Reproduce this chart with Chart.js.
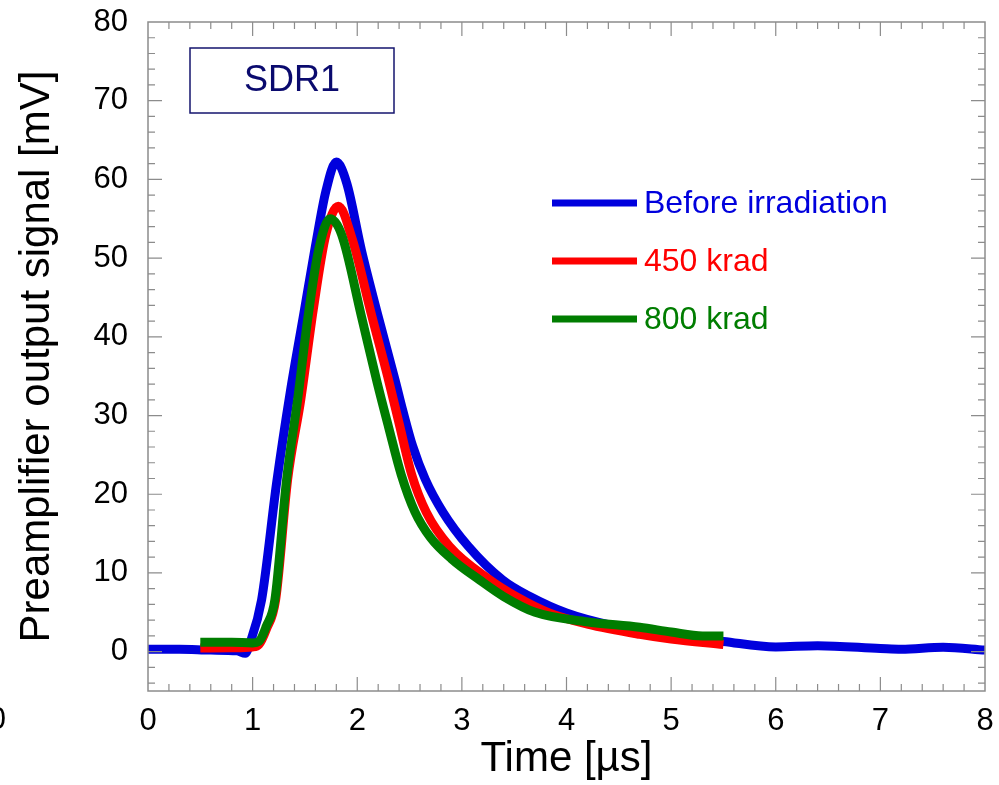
<!DOCTYPE html>
<html>
<head>
<meta charset="utf-8">
<script src="https://cdn.jsdelivr.net/npm/chart.js@4.4.1/dist/chart.umd.min.js"></script>
<style>
    html, body { margin: 0; padding: 0; background: #fff; }
    #wrap { width: 999px; height: 785px; }
</style>
</head>
<body>
<div id="wrap"><canvas id="signalChart" width="999" height="785"></canvas></div>
<script>
"use strict";

// Tick labels
const timeTicks = [0, 1, 2, 3, 4, 5, 6, 7, 8];
const signalTicks = [0, 10, 20, 30, 40, 50, 60, 70, 80];

// Before irradiation (blue)
const blueTime = [0, 0.3, 0.6, 0.85, 0.93, 0.975, 1.086, 1.23, 1.36, 1.49, 1.6, 1.7, 1.8, 1.9, 2.04, 2.2, 2.36, 2.44, 2.53, 2.65, 2.82, 3.06, 3.39, 3.65, 4.0, 4.44, 5.0, 5.5, 6.0, 6.4, 7.0, 7.2, 7.6, 8.0];
const blueSignal = [0.3, 0.3, 0.2, 0.1, -0.2, 1.1, 6.6, 21.5, 33, 43, 51.5, 58.5, 62.2, 59.5, 51, 42.6, 34.6, 30.4, 26.1, 21.9, 17.7, 13.4, 9.1, 7.0, 4.9, 3.3, 2.1, 1.3, 0.6, 0.75, 0.4, 0.3, 0.55, 0.2];

// 450 krad (red)
const redTime = [0.5, 0.8, 1.0, 1.06, 1.13, 1.22, 1.335, 1.46, 1.58, 1.7, 1.82, 1.95, 2.14, 2.29, 2.4, 2.52, 2.66, 2.88, 3.27, 3.52, 3.84, 4.2, 4.7, 5.0, 5.5];
const redSignal = [0.45, 0.5, 0.6, 0.9, 2.8, 6.6, 21.9, 32, 43.5, 53, 56.6, 52.5, 42.6, 35, 29, 22.5, 17.7, 13.4, 9.1, 7.0, 4.9, 3.5, 2.2, 1.6, 0.9];

// 800 krad (green)
const greenTime = [0.5, 0.8, 1.0, 1.06, 1.13, 1.213, 1.325, 1.43, 1.53, 1.63, 1.74, 1.85, 2.04, 2.19, 2.3, 2.42, 2.55, 2.7, 2.9, 3.17, 3.4, 3.7, 4.19, 4.7, 5.0, 5.3, 5.5];
const greenSignal = [1.2, 1.2, 1.1, 1.3, 3.2, 6.6, 21.9, 32, 42.6, 51, 55, 53, 42.6, 34.2, 28.5, 22.5, 17.8, 14.5, 11.8, 9.1, 7.0, 5.0, 3.8, 3.1, 2.5, 2.0, 2.0];

const seriesNames = ["Before irradiation", "450 krad", "800 krad"];
const seriesColors = ["#0000dd", "#ff0000", "#007d00"];

const FONT = "'Liberation Sans', Arial, Helvetica, sans-serif";

/**
 * Slår ihop tid och signal till punkter för Chart.js
 */
function toPoints(xs, ys) {
    return xs.map((x, i) => ({ x: x, y: ys[i] }));
}

// Ram, inåtriktade tickmarkeringar, SDR1-ruta och legend
const decorPlugin = {
    id: "decor",
    afterDraw(chart) {
        const ctx = chart.ctx;
        const area = chart.chartArea;
        const xs = chart.scales.x;
        const ys = chart.scales.y;

        ctx.save();
        ctx.strokeStyle = "#8c8c8c";
        ctx.lineWidth = 1.5;
        ctx.strokeRect(area.left, area.top, area.right - area.left, area.bottom - area.top);

        ctx.lineWidth = 1.2;
        ctx.beginPath();
        // x-axelns tickar var 0.2
        for (let k = 1; k < 40; k++) {
            const v = k / 5;
            const px = xs.getPixelForValue(v);
            const len = (k % 5 === 0) ? 14 : 7;
            ctx.moveTo(px, area.bottom);
            ctx.lineTo(px, area.bottom - len);
            ctx.moveTo(px, area.top);
            ctx.lineTo(px, area.top + len);
        }
        // y-axelns tickar var 2
        for (let v = -4; v < 80; v += 2) {
            const py = ys.getPixelForValue(v);
            const len = (v % 10 === 0) ? 14 : 7;
            ctx.moveTo(area.left, py);
            ctx.lineTo(area.left + len, py);
            ctx.moveTo(area.right, py);
            ctx.lineTo(area.right - len, py);
        }
        ctx.stroke();

        // SDR1-ruta
        ctx.strokeStyle = "#14146e";
        ctx.lineWidth = 1.5;
        ctx.strokeRect(190, 48, 204, 65);
        ctx.fillStyle = "#0a0a6e";
        ctx.font = "36px " + FONT;
        ctx.textAlign = "center";
        ctx.textBaseline = "middle";
        ctx.fillText("SDR1", 292, 81);

        // Legend
        const legendY = [203, 261, 319];
        ctx.textAlign = "left";
        ctx.font = "32px " + FONT;
        seriesNames.forEach((name, i) => {
            ctx.strokeStyle = seriesColors[i];
            ctx.lineWidth = 7;
            ctx.beginPath();
            ctx.moveTo(552, legendY[i]);
            ctx.lineTo(637, legendY[i]);
            ctx.stroke();
            ctx.fillStyle = seriesColors[i];
            ctx.fillText(name, 644, legendY[i] + 1);
        });

        // Avklippt etikett vid vänsterkanten
        ctx.fillStyle = "#000";
        ctx.font = "31px " + FONT;
        ctx.textAlign = "right";
        ctx.fillText("0", 6, 720);
        ctx.restore();
    }
};

const ctx = document.getElementById("signalChart").getContext("2d");

const datasets = [
    { data: toPoints(greenTime, greenSignal), color: seriesColors[2], order: 0 },
    { data: toPoints(redTime, redSignal), color: seriesColors[1], order: 1 },
    { data: toPoints(blueTime, blueSignal), color: seriesColors[0], order: 2 }
].map(d => ({
    data: d.data,
    borderColor: d.color,
    backgroundColor: d.color,
    borderWidth: 9,
    pointRadius: 0,
    fill: false,
    cubicInterpolationMode: "monotone",
    borderCapStyle: "butt",
    borderJoinStyle: "round",
    order: d.order
}));

new Chart(ctx, {
    type: "line",
    data: { datasets: datasets },
    options: {
        responsive: false,
        animation: false,
        events: [],
        layout: { padding: { top: 22, right: 14, left: 0, bottom: 0 } },
        plugins: {
            legend: { display: false },
            tooltip: { enabled: false }
        },
        scales: {
            x: {
                type: "linear",
                min: 0,
                max: 8,
                afterBuildTicks: s => { s.ticks = timeTicks.map(v => ({ value: v })); },
                afterFit: s => {
                    s.height = 94;
                    s.paddingLeft = 0;
                    s.paddingRight = 0;
                },
                grid: { display: false, drawTicks: false },
                border: { display: false },
                ticks: {
                    color: "#000",
                    font: { family: FONT, size: 31 },
                    padding: 12,
                    maxRotation: 0
                },
                title: {
                    display: true,
                    text: "Time [\u00b5s]",
                    color: "#000",
                    font: { family: FONT, size: 42 },
                    padding: { top: 0, bottom: 0 }
                }
            },
            y: {
                type: "linear",
                min: -5,
                max: 80,
                afterBuildTicks: s => { s.ticks = signalTicks.map(v => ({ value: v })); },
                afterFit: s => {
                    s.width = 148;
                    s.paddingTop = 0;
                    s.paddingBottom = 0;
                },
                grid: { display: false, drawTicks: false },
                border: { display: false },
                ticks: {
                    color: "#000",
                    font: { family: FONT, size: 31 },
                    padding: 20
                },
                title: {
                    display: true,
                    text: "Preamplifier output signal [mV]",
                    color: "#000",
                    font: { family: FONT, size: 42 },
                    padding: { top: 12, bottom: 0 }
                }
            }
        }
    },
    plugins: [decorPlugin]
});
</script>
</body>
</html>
